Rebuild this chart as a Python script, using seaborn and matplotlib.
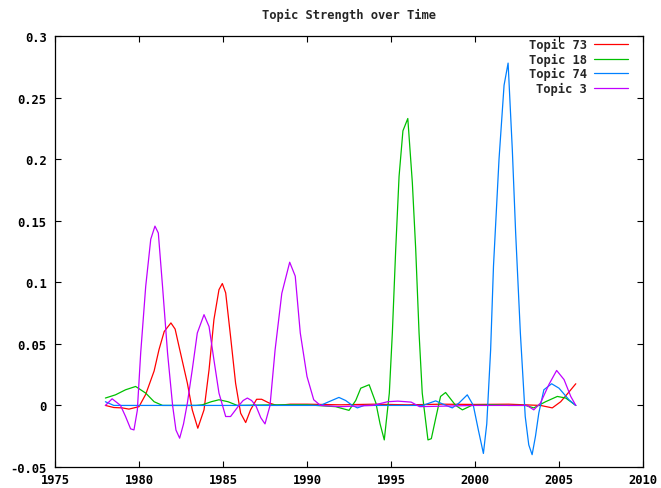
import matplotlib
matplotlib.use("Agg")
import matplotlib.pyplot as plt
import seaborn as sns
import pandas as pd
from matplotlib.ticker import FuncFormatter

# ---- data ----
topics = ["Topic 73", "Topic 18", "Topic 74", "Topic 3"]
colors = ["#ff0000", "#00c000", "#0080ff", "#c000ff"]

t73_year = [1978, 1978.5, 1979.0, 1979.4, 1980.0, 1980.4, 1980.9, 1981.19, 1981.5, 1981.9,
            1982.15, 1982.38, 1982.88, 1983.17, 1983.5, 1983.87, 1984.17, 1984.46, 1984.76,
            1984.96, 1985.16, 1985.45, 1985.75, 1986.05, 1986.35, 1986.64, 1987.0,
            1987.3, 1987.74, 1988.2, 1989, 1990, 1992, 1994, 1996, 1998, 2000, 2002,
            2003.9, 2004.6, 2005.1, 2005.6, 2006]
t73_val = [0, -0.0017, -0.002, -0.003, -0.001, 0.009, 0.028, 0.0453, 0.06, 0.067,
           0.062, 0.048, 0.018, -0.0036, -0.0185, -0.0036, 0.029, 0.0697, 0.094,
           0.099, 0.0914, 0.056, 0.018, -0.0063, -0.0139, -0.0036, 0.005,
           0.005, 0.002, 0, 0.001, 0.001, 0.0005, 0.001, 0.0005, 0.001, 0.0008, 0.001,
           0, -0.002, 0.003, 0.011, 0.0176]

t18_year = [1978, 1978.6, 1979.2, 1979.8, 1980.4, 1980.9, 1981.4, 1983.4, 1983.77, 1984.3,
            1984.76, 1985.3, 1985.85, 1988, 1990, 1991.7, 1992.5, 1992.9, 1993.2, 1993.7,
            1994.1, 1994.35, 1994.6, 1994.9, 1995.08, 1995.28, 1995.48, 1995.71, 1996.0,
            1996.27, 1996.47, 1996.67, 1996.86, 1997.2, 1997.4, 1997.7, 1997.95, 1998.25,
            1998.85, 1999.25, 1999.8, 2001, 2002, 2003, 2003.5, 2004.2, 2004.9, 2005.4,
            2006]
t18_val = [0.006, 0.0086, 0.0127, 0.0154, 0.01, 0.003, 0, 0, 0.0005, 0.003,
           0.0046, 0.003, 0, 0.0005, 0.0005, -0.001, -0.004, 0.004, 0.014, 0.0168,
           0.002, -0.015, -0.028, 0.01, 0.0588, 0.1266, 0.186, 0.223, 0.233,
           0.181, 0.127, 0.0588, 0.01, -0.028, -0.027, -0.008, 0.0073, 0.0105,
           0, -0.0036, 0, 0.0005, 0, 0, -0.002, 0.003, 0.0073, 0.006,
           0]

t74_year = [1978, 1978.5, 1985, 1990.8, 1991.3, 1991.9, 1992.3, 1992.7, 1993.0, 1993.4,
            1996.9, 1997.3, 1997.66, 1998.1, 1998.65, 1999.05, 1999.54, 1999.9, 2000.2,
            2000.5, 2000.7, 2000.93, 2001.1, 2001.43, 2001.73, 2001.97, 2002.22, 2002.42,
            2002.7, 2002.99, 2003.2, 2003.4, 2003.6, 2003.8, 2004.1, 2004.56, 2005.0,
            2005.6, 2006]
t74_val = [0.003, 0, 0, 0, 0.003, 0.0065, 0.004, 0, -0.002, 0,
           0, 0.002, 0.0037, 0.001, -0.002, 0.002, 0.0086, 0, -0.02,
           -0.039, -0.015, 0.045, 0.113, 0.2, 0.26, 0.278, 0.208, 0.14,
           0.0588, -0.009, -0.032, -0.040, -0.025, -0.006, 0.0127, 0.0176, 0.014,
           0.0045, 0]

t3_year = [1978, 1978.4, 1978.9, 1979.2, 1979.5, 1979.7, 1979.9, 1980.1, 1980.4, 1980.7,
           1980.95, 1981.15, 1981.4, 1981.7, 1982.0, 1982.2, 1982.42, 1982.65, 1982.88,
           1983.17, 1983.47, 1983.87, 1984.17, 1984.46, 1984.76, 1985.16, 1985.45,
           1985.95, 1986.2, 1986.45, 1986.7, 1986.95, 1987.25, 1987.5, 1987.8, 1988.1,
           1988.5, 1988.97, 1989.3, 1989.6, 1990.0, 1990.4, 1990.8, 1992, 1993.9, 1994.8,
           1995.4, 1996.2, 1996.7, 2000, 2003.1, 2003.5, 2003.9, 2004.4, 2004.86, 2005.3,
           2005.7, 2006]
t3_val = [0, 0.0054, 0, -0.009, -0.019, -0.0199, -0.004, 0.0425, 0.0968, 0.135,
          0.1456, 0.14, 0.0968, 0.0425, 0, -0.02, -0.0266, -0.015, 0.002,
          0.029, 0.0588, 0.0737, 0.064, 0.037, 0.01, -0.009, -0.009,
          0, 0.004, 0.006, 0.004, 0, -0.01, -0.015, 0, 0.045,
          0.091, 0.1163, 0.105, 0.0588, 0.0235, 0.0046, 0, -0.001, 0, 0.003,
          0.0035, 0.0027, -0.001, 0, 0, -0.0036, 0.002, 0.017, 0.0284, 0.021,
          0.0073, 0]

x_ticks = [1975, 1980, 1985, 1990, 1995, 2000, 2005, 2010]
y_ticks = [-0.05, 0, 0.05, 0.1, 0.15, 0.2, 0.25, 0.3]
title = "Topic Strength over Time"

frames = []
for name, yr, vl in zip(topics, [t73_year, t18_year, t74_year, t3_year],
                        [t73_val, t18_val, t74_val, t3_val]):
    frames.append(pd.DataFrame({"year": yr, "strength": vl, "topic": name}))
df = pd.concat(frames, ignore_index=True)

sns.set_theme(style="ticks")
plt.rcParams["font.family"] = ["DejaVu Sans Mono", "DejaVu Sans"]
plt.rcParams["font.weight"] = "bold"

fig = plt.figure(figsize=(6.61, 4.89), dpi=100)
ax = fig.add_axes([55 / 661, 1 - 468 / 489, 588 / 661, 431 / 489])

sns.lineplot(data=df, x="year", y="strength", hue="topic", hue_order=topics,
             palette=colors, estimator=None, sort=False, linewidth=0.9,
             legend=False, ax=ax)

ax.set_xlim(1975, 2010)
ax.set_ylim(-0.05, 0.3)
ax.set_xticks(x_ticks)
ax.set_yticks(y_ticks)
ax.yaxis.set_major_formatter(FuncFormatter(lambda v, p: "%g" % round(v, 4)))
ax.set_xlabel("")
ax.set_ylabel("")
ax.grid(False)
for s in ax.spines.values():
    s.set_visible(True)
    s.set_color("black")
    s.set_linewidth(0.9)
ax.tick_params(direction="in", length=4.5, width=0.8, top=True, right=True,
               colors="black", labelsize=8.7)
ax.tick_params(axis="y", pad=6)
ax.tick_params(axis="x", pad=4)
for lab in ax.get_xticklabels() + ax.get_yticklabels():
    lab.set_fontweight("bold")

leg = ax.legend(ax.lines[:4], topics, loc="upper right",
                bbox_to_anchor=(0.9745, 0.995), frameon=False, markerfirst=False,
                borderpad=0, borderaxespad=0, handlelength=2.8, handletextpad=0.6,
                labelspacing=0.12, prop={"family": "DejaVu Sans Mono", "weight": "bold", "size": 8.7})
for t in leg.get_texts():
    t.set_ha("right")

fig.text(349 / 661, 1 - 15 / 489, title, ha="center", va="center",
         fontsize=8.7, fontweight="bold", family="DejaVu Sans Mono")

fig.savefig("out.png", dpi=100, facecolor="white")
